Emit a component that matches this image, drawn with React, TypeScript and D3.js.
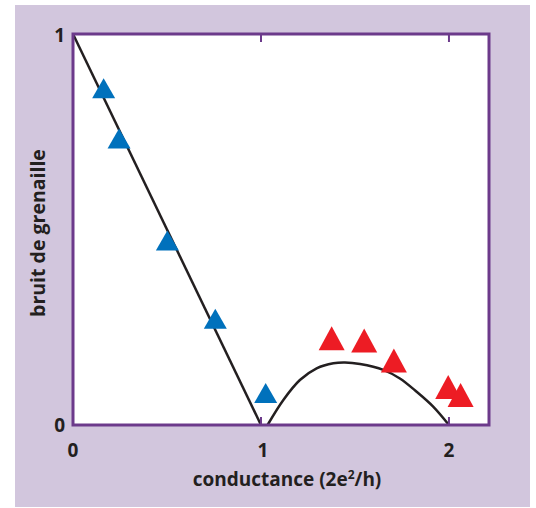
import React from "react";
import * as d3 from "d3";

const lineTheory: [number, number][] = [[0, 1], [1, 0]];
const curveTheory: [number, number][] = [
  [1.035, 0], [1.119, 0.064], [1.207, 0.115], [1.296, 0.145], [1.385, 0.158],
  [1.447, 0.16], [1.527, 0.156], [1.651, 0.141], [1.739, 0.119], [1.828, 0.085],
  [1.916, 0.047], [2.0, 0],
];
const bluePoints: [number, number][] = [
  [0.163, 0.861], [0.245, 0.733], [0.502, 0.472], [0.757, 0.272], [1.025, 0.082],
];
const redPoints: [number, number][] = [
  [1.376, 0.222], [1.549, 0.216], [1.707, 0.165], [1.996, 0.097], [2.062, 0.077],
];
const xTicks = [0, 1, 2];
const yTicks = [0, 1];
const xLabel = "conductance (2e";
const yLabel = "bruit de grenaille";

export default function App() {
  const W = 536, H = 508;
  const x0 = 73, x1 = 489, y0 = 425, y1 = 34;
  const x = d3.scaleLinear().domain([0, 2.213]).range([x0, x1]);
  const y = d3.scaleLinear().domain([0, 1]).range([y0, y1]);
  const line = d3.line<[number, number]>().x(d => x(d[0])).y(d => y(d[1]));
  const curve = d3.line<[number, number]>().x(d => x(d[0])).y(d => y(d[1])).curve(d3.curveCatmullRom);
  const tri = (cx: number, cy: number, w: number, h: number) =>
    `M${cx},${cy - h / 2}L${cx + w / 2},${cy + h / 2}L${cx - w / 2},${cy + h / 2}Z`;
  const font = "'Open Sans', Roboto, sans-serif";
  const purple = "#6c3a8b";
  const ink = "#231f20";
  return (
    <svg width={W} height={H} style={{ position: "absolute", left: 0, top: 0 }}>
      <rect x={15} y={5} width={515} height={502} fill="#d2c6dd" />
      <rect x={x0} y={y1} width={x1 - x0} height={y0 - y1} fill="#fff" />
      <path d={line(lineTheory) ?? ""} fill="none" stroke={ink} strokeWidth={2.5} />
      <path d={curve(curveTheory) ?? ""} fill="none" stroke={ink} strokeWidth={2.5} />
      {bluePoints.map((p, i) => (
        <path key={"b" + i} d={tri(x(p[0]), y(p[1]), 23, 20)} fill="#0071bc" />
      ))}
      {redPoints.map((p, i) => (
        <path key={"r" + i} d={tri(x(p[0]), y(p[1]), 26, 24)} fill="#ed1c24" />
      ))}
      <rect x={x0} y={y1} width={x1 - x0} height={y0 - y1} fill="none" stroke={purple} strokeWidth={3} />
      {xTicks.filter(t => t > 0).map(t => (
        <g key={"t" + t}>
          <line x1={x(t)} x2={x(t)} y1={y0} y2={y0 - 8} stroke={purple} strokeWidth={2} />
          <line x1={x(t)} x2={x(t)} y1={y1} y2={y1 + 8} stroke={purple} strokeWidth={2} />
        </g>
      ))}
      {xTicks.map(t => (
        <text key={"xl" + t} x={x(t) + (t === 1 ? 2 : 0)} y={457} textAnchor="middle" fontFamily={font} fontWeight="bold" fontSize={19} fill={ink}>{t}</text>
      ))}
      {yTicks.map(t => (
        <text key={"yl" + t} x={65} y={t === 0 ? 432 : 42} textAnchor="end" fontFamily={font} fontWeight="bold" fontSize={19} fill={ink}>{t}</text>
      ))}
      <text x={287} y={486} textAnchor="middle" fontFamily={font} fontWeight="bold" fontSize={19} fill={ink}>
        {xLabel}<tspan dy={-7} fontSize={12}>2</tspan><tspan dy={7}>/h)</tspan>
      </text>
      <text transform={`translate(45,233) rotate(-90)`} textAnchor="middle" fontFamily={font} fontWeight="bold" fontSize={19.5} fill={ink}>
        {yLabel}
      </text>
    </svg>
  );
}
